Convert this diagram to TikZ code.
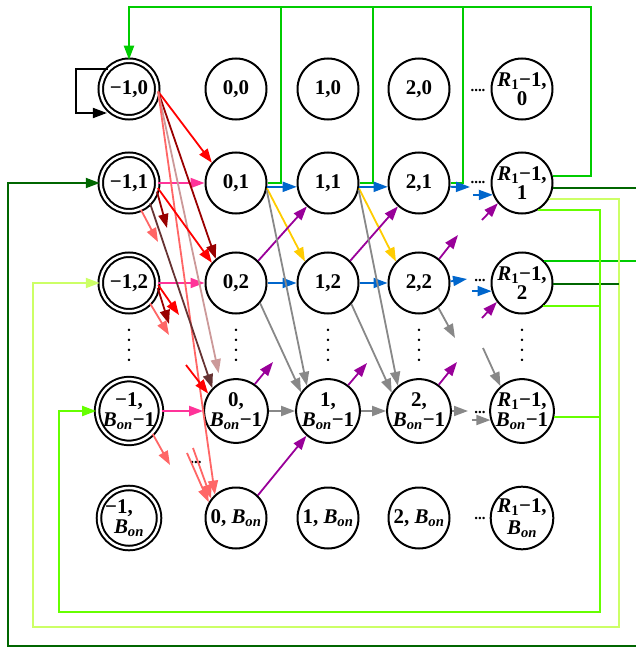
\documentclass[tikz,border=0pt]{standalone}
\usepackage{fontspec}
\setmainfont{Liberation Serif}
\usepackage{tikz}
\usetikzlibrary{arrows.meta}

\definecolor{gtop}{RGB}{0,204,0}
\definecolor{gdark}{RGB}{0,102,0}
\definecolor{gpale}{RGB}{204,255,102}
\definecolor{glawn}{RGB}{102,255,0}
\definecolor{cred}{RGB}{255,0,0}
\definecolor{cdred}{RGB}{153,0,0}
\definecolor{csalmon}{RGB}{255,102,102}
\definecolor{crosy}{RGB}{204,153,153}
\definecolor{cbrown}{RGB}{102,51,51}
\definecolor{cpink}{RGB}{255,51,153}
\definecolor{cblue}{RGB}{0,102,204}
\definecolor{cgold}{RGB}{255,204,0}
\definecolor{cpurple}{RGB}{153,0,153}
\definecolor{cgray}{RGB}{136,136,136}

\newcommand{\Bon}{\textit{B}\textsubscript{\textit{on}}}
\newcommand{\Rone}{\textit{R}\textsubscript{1}}
\newcommand{\vdotsfour}{.\hspace{6.2bp}.\hspace{6.2bp}.\hspace{6.2bp}.}

\begin{document}
\begin{tikzpicture}[x=1bp,y=-1bp,line width=1.8bp,
    >={Triangle[length=14bp,width=10bp]},
    st/.style={draw,circle,align=center,minimum size=61bp,inner sep=0pt,line width=2bp,
      font=\fontsize{21}{19.5}\selectfont\bfseries},
    dst/.style={st,double,double distance=2.5bp,minimum size=56.5bp},
    hd/.style={anchor=base,inner sep=0pt,font=\fontsize{15}{15}\selectfont\bfseries},
    vd/.style={rotate=-90,inner sep=0pt,font=\fontsize{15}{15}\selectfont\bfseries}]
      \clip (0,0) rectangle (636,648);

      % states -1,j
      \node [dst] (a0) at (129,89) {−1,0};
      \node [dst] (a1) at (129,183) {−1,1};
      \node [dst] (a2) at (129,283) {−1,2};
      \node [dst] (a3) at (129,411) {−1,\\\Bon−1};
      \node [dst] (a4) at (129,518) {−1,\hspace*{20bp}\\\Bon};
      % states 0,j
      \node [st] (b0) at (236,89) {0,0};
      \node [st] (b1) at (236,183) {0,1};
      \node [st] (b2) at (236,283) {0,2};
      \node [st] (b3) at (236,411) {0,\\\Bon−1};
      \node [st] (b4) at (236,518) {0, \Bon};
      % states 1,j
      \node [st] (c0) at (328,89) {1,0};
      \node [st] (c1) at (328,183) {1,1};
      \node [st] (c2) at (328,283) {1,2};
      \node [st] (c3) at (328,411) {1,\\\Bon−1};
      \node [st] (c4) at (328,518) {1, \Bon};
      % states 2,j
      \node [st] (d0) at (419,89) {2,0};
      \node [st] (d1) at (419,183) {2,1};
      \node [st] (d2) at (419,283) {2,2};
      \node [st] (d3) at (419,411) {2,\\\Bon−1};
      \node [st] (d4) at (419,518) {2, \Bon};
      % states R_1-1,j
      \node [st] (e0) at (522,89) {\Rone−1,\\0};
      \node [st] (e1) at (522,183) {\Rone−1,\\1};
      \node [st] (e2) at (522,283) {\Rone−1,\\2};
      \node [st] (e3) at (522,411) {\Rone−1,\\\Bon−1};
      \node [st] (e4) at (522,518) {\Rone−1,\\[2bp]\Bon};

      % dots
      \node [hd] (h0) at (478,91.5) {....};
      \node [hd] (h1) at (478,184) {....};
      \node [hd] (h2) at (480,281.5) {...};
      \node [hd] (h3) at (480,413) {...};
      \node [hd] (h4) at (480,519.5) {...};
      \node [hd] (h5) at (196,463.5) {...};
      \node [vd] (v0) at (129,345) {\vdotsfour};
      \node [vd] (v1) at (236,345) {\vdotsfour};
      \node [vd] (v2) at (328,345) {\vdotsfour};
      \node [vd] (v3) at (419,345) {\vdotsfour};
      \node [vd] (v4) at (522,345) {\vdotsfour};

      % corners and loose ends
      \coordinate (lp) at (76,113);
      \coordinate (tr) at (591,7);
      \coordinate (t1) at (281,7);
      \coordinate (t2) at (373,7);
      \coordinate (t3) at (463,7);
      \coordinate (dr) at (650,646);
      \coordinate (dl) at (8,646);
      \coordinate (yr) at (619,627);
      \coordinate (yl) at (33,627);
      \coordinate (lr) at (600,612);
      \coordinate (ll) at (59,612);
      \coordinate (s1) at (167,228);
      \coordinate (s2) at (158,242);
      \coordinate (s3) at (179,315);
      \coordinate (s4) at (169,324);
      \coordinate (s5) at (169,335);
      \coordinate (s6) at (170,465);
      \coordinate (s7) at (186,365);
      \coordinate (s8) at (187,453);
      \coordinate (s9) at (193,448);
      \coordinate (u1) at (470,187);
      \coordinate (u2) at (473,195);
      \coordinate (u3) at (467,279);
      \coordinate (u4) at (472,291);
      \coordinate (p1) at (458,235);
      \coordinate (p2) at (482,220);
      \coordinate (p3) at (482,318);
      \coordinate (p4) at (273,362);
      \coordinate (p5) at (367,363);
      \coordinate (p6) at (457,362);
      \coordinate (g1) at (455,338);
      \coordinate (g2) at (483,348);
      \coordinate (g3) at (468,411);
      \coordinate (g4) at (472,420);

      % back to the -1 column
      \draw [->] (a0.136) -| (lp) -- (lp -| a0.221);
      \draw [gtop,line width=2bp,->] (e1.13) -| (tr) -| (a0.north);
      \draw [gtop,line width=2bp] (b1.east) -| (t1);
      \draw [gtop,line width=2bp] (c1.east) -| (t2);
      \draw [gtop,line width=2bp] (d1.east) -| (t3);
      \draw [gtop,line width=2bp] (e2.45) -- (e2.45 -| dr);
      \draw [gpale,line width=2bp,->] (e1.-31) -| (yr) -- (yl) |- (a2.west);
      \draw [gdark,line width=2bp,->] (e1.-9) -| (dr) -- (dl) |- (a1.west);
      \draw [gdark,line width=2bp] (e2.-2) -- (e2.-2 -| yr);
      \draw [glawn,line width=2bp,->] (e1.-60) -| (lr) -- (ll) |- (a3.west);
      \draw [glawn,line width=2bp] (e2.-47) -- (e2.-47 -| lr);
      \draw [glawn,line width=2bp] (e3.-11) -- (e3.-11 -| lr);

      % from the -1 column
      \draw [cpink,->] (a1) -- (b1);
      \draw [cpink,->] (a2) -- (b2);
      \draw [cpink,->] (a3) -- (b3);
      \draw [cred,->] (a0.-5) -- (b1.140);
      \draw [cdred,->] (a0.-5) -- (b2.130);
      \draw [crosy,->,shorten >=9bp] (a0.-5) -- (b3.118);
      \draw [csalmon,->] (a0.-5) -- (b4.132);
      \draw [cred,->] (a1.-10) -- (b2.140);
      \draw [cbrown,->] (a1.-44) -- (b3.136);
      \draw [cdred,->] (a1.-17) -- (s1);
      \draw [csalmon,->] (a1.-66) -- (s2);
      \draw [cred,->] (a2.-4) -- (s3);
      \draw [cdred,->] (a2.-10) -- (s4);
      \draw [csalmon,->] (a2.-44) -- (s5);
      \draw [csalmon,->] (a3.-44) -- (s6);
      \draw [cred,->] (s7) -- (b3.148);
      \draw [csalmon,->] (s8) -- (b4.150);
      \draw [csalmon,->] (s9) -- (b4.142);

      % blue
      \draw [cblue,->] (b1.-7) -- (c1.-173);
      \draw [cblue,->] (c1.-7) -- (d1.-173);
      \draw [cblue,->] (d1.-7) -- (u1);
      \draw [cblue,->] (u2) -- (e1.-158);
      \draw [cblue,->] (b2) -- (c2);
      \draw [cblue,->] (c2) -- (d2);
      \draw [cblue,->] (d2.3) -- (u3);
      \draw [cblue,->] (u4) -- (e2.-165);
      % gold
      \draw [cgold,->] (b1.-10) -- (c2.137);
      \draw [cgold,->] (c1.-10) -- (d2.137);
      % purple
      \draw [cpurple,->] (b2.45) -- (c1.-132);
      \draw [cpurple,->] (c2.45) -- (d1.-132);
      \draw [cpurple,->] (d2.50) -- (p1);
      \draw [cpurple,->] (p2) -- (e1.-140);
      \draw [cpurple,->] (p3) -- (e2.-143);
      \draw [cpurple,->] (b3.55) -- (p4);
      \draw [cpurple,->] (c3.52) -- (p5);
      \draw [cpurple,->] (d3.53) -- (p6);
      \draw [cpurple,->] (b4.46) -- (c3.-131);
      % gray
      \draw [cgray,->] (b1.-13) -- (c3.130);
      \draw [cgray,->] (b2.-40) -- (c3.145);
      \draw [cgray,->] (c1.-13) -- (d3.130);
      \draw [cgray,->] (c2.-42) -- (d3.146);
      \draw [cgray,->] (d2.-52) -- (g1);
      \draw [cgray,->] (g2) -- (e3.131);
      \draw [cgray,->] (b3) -- (c3);
      \draw [cgray,->] (c3) -- (d3);
      \draw [cgray,->] (d3) -- (g3);
      \draw [cgray,->] (g4) -- (e3.-164);
    \end{tikzpicture}
\end{document}
